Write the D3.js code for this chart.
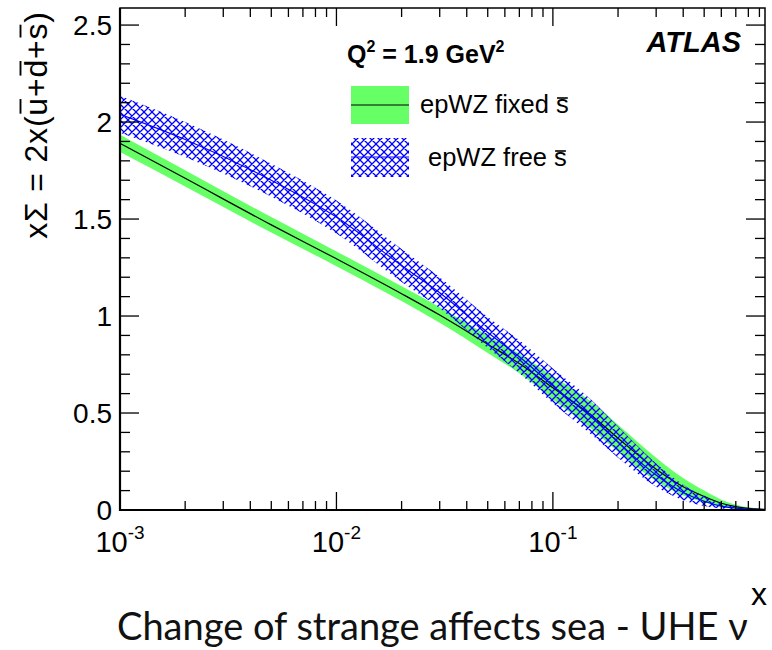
<!DOCTYPE html>
<html>
<head>
<meta charset="utf-8">
<script src="https://cdn.jsdelivr.net/npm/d3@7"></script>
<style>
  html, body { margin: 0; padding: 0; background: #fff; }
  svg { display: block; }
  text { font-family: "Liberation Sans", Arial, Helvetica, sans-serif; }
  text.caption { font-family: Lato, "Open Sans", sans-serif; }
</style>
</head>
<body>
<svg id="chart" width="772" height="650"></svg>
<script>
// ---- data ----
const xValues      = [0.001, 0.002, 0.005, 0.01, 0.02, 0.03, 0.05, 0.07, 0.1, 0.15, 0.2, 0.3, 0.4, 0.5, 0.6, 0.7, 0.8, 0.9, 0.955];
const fixedCentral = [1.89, 1.71, 1.47, 1.295, 1.115, 1.005, 0.855, 0.755, 0.63, 0.49, 0.37, 0.21, 0.12, 0.07, 0.035, 0.017, 0.008, 0.004, 0.003];
const fixedErr     = [0.045, 0.042, 0.04, 0.038, 0.038, 0.04, 0.045, 0.05, 0.06, 0.07, 0.07, 0.06, 0.045, 0.03, 0.018, 0.01, 0.006, 0.004, 0.003];
const freeCentral  = [2.04, 1.91, 1.70, 1.51, 1.26, 1.12, 0.915, 0.79, 0.64, 0.48, 0.35, 0.18, 0.09, 0.045, 0.02, 0.01, 0.005, 0.003, 0.002];
const freeErr      = [0.095, 0.09, 0.085, 0.085, 0.085, 0.08, 0.08, 0.085, 0.09, 0.09, 0.08, 0.06, 0.04, 0.025, 0.012, 0.006, 0.003, 0.002, 0.001];
const yTickLabels  = ["0", "0.5", "1", "1.5", "2", "2.5"];
const xTickExps    = ["-3", "-2", "-1"];
const legendLabels = ["epWZ fixed s", "epWZ free s"];

const svg = d3.select("#chart");
svg.append("rect").attr("width", 772).attr("height", 650).attr("fill", "#fff");

const L = 120, R = 765, T = 8, B = 510;
const x = d3.scaleLog().domain([0.001, 0.955]).range([L, R]);
const y = d3.scaleLinear().domain([0, 2.588]).range([B, T]);

const defs = svg.append("defs");
const pat = defs.append("pattern").attr("id", "hatch").attr("patternUnits", "userSpaceOnUse")
  .attr("width", 8).attr("height", 8);
pat.append("path").attr("d", "M-1,-1L9,9M9,-1L-1,9M-1,7L1,9M7,-1L9,1M-1,1L1,-1M7,9L9,7")
  .attr("stroke", "#0000ff").attr("stroke-width", 1.25).attr("fill", "none");
defs.append("clipPath").attr("id", "plotclip").append("rect")
  .attr("x", L).attr("y", T).attr("width", R - L).attr("height", B - T);

const fixedData = xValues.map((v, i) => ({x: v, c: fixedCentral[i], e: fixedErr[i]}));
const freeData  = xValues.map((v, i) => ({x: v, c: freeCentral[i], e: freeErr[i]}));

const area = d3.area().x(d => x(d.x)).y0(d => y(Math.max(0, d.c - d.e))).y1(d => y(d.c + d.e)).curve(d3.curveMonotoneX);
const line = d3.line().x(d => x(d.x)).y(d => y(d.c)).curve(d3.curveMonotoneX);

const plot = svg.append("g").attr("clip-path", "url(#plotclip)");
plot.append("path").datum(fixedData).attr("d", area).attr("fill", "#66ff66");
plot.append("path").datum(fixedData).attr("d", line).attr("fill", "none").attr("stroke", "#000").attr("stroke-width", 1.2);
plot.append("path").datum(freeData).attr("d", area).attr("fill", "url(#hatch)");
plot.append("path").datum(freeData).attr("d", line).attr("fill", "none").attr("stroke", "#0000ff").attr("stroke-width", 1.2);

// ---- frame & ticks ----
const ax = svg.append("g").attr("stroke", "#000");
ax.append("rect").attr("x", L).attr("y", T).attr("width", R - L).attr("height", B - T)
  .attr("fill", "none").attr("stroke-width", 1.5);
ax.append("line").attr("x1", L).attr("x2", L).attr("y1", T).attr("y2", B + 1).attr("stroke-width", 2.2);
ax.append("line").attr("x1", L - 1).attr("x2", R).attr("y1", B).attr("y2", B).attr("stroke-width", 2.2);

const yMinor = d3.range(0, 26).map(i => i / 10).filter(v => v <= 2.588);
yMinor.forEach(v => {
  const major = Math.abs(v * 2 - Math.round(v * 2)) < 1e-6;
  const len = major ? 19 : 10;
  ax.append("line").attr("x1", L).attr("x2", L + len).attr("y1", y(v)).attr("y2", y(v)).attr("stroke-width", 1.3);
  ax.append("line").attr("x1", R).attr("x2", R - len).attr("y1", y(v)).attr("y2", y(v)).attr("stroke-width", 1.3);
});
const xTicksAll = [];
[0.001, 0.01, 0.1].forEach(dec => { for (let k = 1; k <= 9; k++) { const v = dec * k; if (v <= 0.955) xTicksAll.push({v, major: k === 1}); } });
xTicksAll.forEach(t => {
  const len = t.major ? 18 : 9;
  ax.append("line").attr("x1", x(t.v)).attr("x2", x(t.v)).attr("y1", B).attr("y2", B - len).attr("stroke-width", 1.3);
  ax.append("line").attr("x1", x(t.v)).attr("x2", x(t.v)).attr("y1", T).attr("y2", T + len).attr("stroke-width", 1.3);
});

// ---- tick labels ----
yTickLabels.forEach(lbl => {
  svg.append("text").attr("x", 112).attr("y", y(+lbl)).attr("dy", "0.36em")
    .attr("text-anchor", "end").attr("font-size", 28).text(lbl);
});
xTickExps.forEach(ex => {
  const t = svg.append("text").attr("x", x(Math.pow(10, +ex))).attr("y", 552)
    .attr("text-anchor", "middle").attr("font-size", 29);
  t.append("tspan").text("10");
  t.append("tspan").attr("dy", -13).attr("font-size", 19).text(ex);
});

// ---- overline helper ----
function overline(g, node, idxs, yPos, inset, sw) {
  idxs.forEach(i => {
    const e = node.getExtentOfChar(i);
    g.append("line").attr("x1", e.x + inset).attr("x2", e.x + e.width - inset)
      .attr("y1", yPos).attr("y2", yPos).attr("stroke", "#000").attr("stroke-width", sw);
  });
}

// ---- axis titles ----
const yt = svg.append("g").attr("transform", "translate(47,125) rotate(-90)");
const ytText = yt.append("text").attr("x", 0).attr("y", 0).attr("text-anchor", "middle")
  .attr("font-size", 32).attr("letter-spacing", 0.8).text("x\u03A3 = 2x(u+d+s)");
overline(yt, ytText.node(), [8, 10, 12], -26.5, 2, 1.9);

svg.append("text").attr("x", 767).attr("y", 605).attr("text-anchor", "end").attr("font-size", 32).text("x");

// ---- labels ----
svg.append("text").attr("x", 741).attr("y", 52).attr("text-anchor", "end")
  .attr("font-size", 29).attr("font-weight", "bold").attr("font-style", "italic").text("ATLAS");
const q = svg.append("text").attr("x", 347).attr("y", 63).attr("font-size", 25).attr("font-weight", "bold");
q.append("tspan").text("Q");
q.append("tspan").attr("dy", -11).attr("font-size", 16).text("2");
q.append("tspan").attr("dy", 11).text(" = 1.9 GeV");
q.append("tspan").attr("dy", -11).attr("font-size", 16).text("2");

// ---- legend ----
const lg = svg.append("g");
lg.append("rect").attr("x", 351).attr("y", 86).attr("width", 58).attr("height", 38).attr("fill", "#66ff66");
lg.append("line").attr("x1", 351).attr("x2", 409).attr("y1", 105).attr("y2", 105).attr("stroke", "#000").attr("stroke-width", 1.2);
lg.append("rect").attr("x", 351).attr("y", 138).attr("width", 58).attr("height", 39).attr("fill", "url(#hatch)");
lg.append("line").attr("x1", 351).attr("x2", 409).attr("y1", 157).attr("y2", 157).attr("stroke", "#0000ff").attr("stroke-width", 1.2);
const lt1 = lg.append("text").attr("x", 420).attr("y", 113).attr("font-size", 25.5).text(legendLabels[0]);
overline(lg, lt1.node(), [11], 113 - 15, 1, 1.6);
const lt2 = lg.append("text").attr("x", 428).attr("y", 166).attr("font-size", 25.5).text(legendLabels[1]);
overline(lg, lt2.node(), [10], 166 - 15, 1, 1.6);

// ---- caption ----
svg.append("text").attr("class", "caption").attr("x", 117).attr("y", 640)
  .attr("font-size", 38).attr("fill", "#111").text("Change of strange affects sea - UHE \u03BD");
</script>
</body>
</html>
